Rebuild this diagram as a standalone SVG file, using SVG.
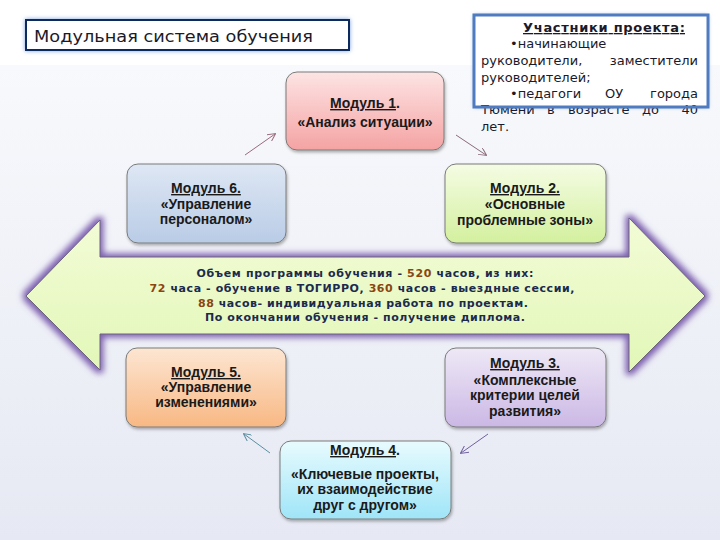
<svg xmlns="http://www.w3.org/2000/svg" width="720" height="540" viewBox="0 0 720 540">
<defs>
<linearGradient id="bg" x1="0" y1="0" x2="0" y2="1"><stop offset="0" stop-color="#f8f9fc"/><stop offset="1" stop-color="#e6e9f3"/></linearGradient>
<linearGradient id="gArrow" x1="0" y1="0" x2="0" y2="1"><stop offset="0" stop-color="#f3fcd6"/><stop offset="1" stop-color="#e2f7b8"/></linearGradient>
<linearGradient id="g1" x1="0" y1="0" x2="0" y2="1"><stop offset="0" stop-color="#fde4e4"/><stop offset="1" stop-color="#f5a3a3"/></linearGradient>
<linearGradient id="g2" x1="0" y1="0" x2="0" y2="1"><stop offset="0" stop-color="#f5fce4"/><stop offset="1" stop-color="#d3f09e"/></linearGradient>
<linearGradient id="g3" x1="0" y1="0" x2="0" y2="1"><stop offset="0" stop-color="#eee8f6"/><stop offset="1" stop-color="#cbb8e5"/></linearGradient>
<linearGradient id="g4" x1="0" y1="0" x2="0" y2="1"><stop offset="0" stop-color="#e8fbfe"/><stop offset="1" stop-color="#9fe5f8"/></linearGradient>
<linearGradient id="g5" x1="0" y1="0" x2="0" y2="1"><stop offset="0" stop-color="#fde6d2"/><stop offset="1" stop-color="#f8b883"/></linearGradient>
<linearGradient id="g6" x1="0" y1="0" x2="0" y2="1"><stop offset="0" stop-color="#dee7f4"/><stop offset="1" stop-color="#b9cce6"/></linearGradient>
<filter id="glow" x="-10%" y="-20%" width="120%" height="140%">
<feMorphology in="SourceAlpha" operator="dilate" radius="2.5" result="d"/>
<feGaussianBlur in="d" stdDeviation="3" result="b"/>
<feFlood flood-color="#7d5fb0" flood-opacity="1"/>
<feComposite in2="b" operator="in" result="g"/>
<feMerge><feMergeNode in="g"/><feMergeNode in="SourceGraphic"/></feMerge>
</filter>
<filter id="sh" x="-10%" y="-10%" width="120%" height="130%">
<feDropShadow dx="1" dy="2" stdDeviation="1.5" flood-color="#000" flood-opacity="0.3"/>
</filter>
<filter id="bglow" x="-10%" y="-30%" width="120%" height="160%">
<feDropShadow dx="0" dy="0" stdDeviation="2" flood-color="#5b8ad6" flood-opacity="0.8"/>
</filter>
<marker id="ah" viewBox="0 0 10 10" refX="9" refY="5" markerWidth="8" markerHeight="8" markerUnits="userSpaceOnUse" orient="auto">
<path d="M0,0 L10,5 L0,10" fill="none" stroke="context-stroke" stroke-width="1.2"/>
</marker>
</defs>
<style>
.mod{stroke:#7a7a7a;stroke-width:1;filter:url(#sh)}
.mt{font-family:"Liberation Sans",Arial,sans-serif;font-weight:bold;font-size:14px;fill:#1a1a1a;text-anchor:middle}
.u{text-decoration:underline}
.ct{font-family:"DejaVu Sans",Verdana,sans-serif;font-weight:bold;font-size:11px;fill:#1b2a4e;text-anchor:middle}
.num{fill:#8b4513}
.pt{font-family:"DejaVu Sans",Verdana,sans-serif;font-size:13px;fill:#1a1a2a}
.e{text-anchor:end}
.con{fill:none;stroke-width:1}
</style>
<rect x="0" y="0" width="720" height="540" fill="#ffffff"/>
<rect x="0" y="65" width="720" height="475" fill="url(#bg)"/>

<g id="title">
<rect x="26" y="20" width="323" height="30" fill="#ffffff" stroke="#0f2b5c" stroke-width="2" filter="url(#bglow)"/>
<text x="34" y="42" font-family="'DejaVu Sans',Verdana,sans-serif" font-size="16.5" fill="#1a1a2a" textLength="279" lengthAdjust="spacingAndGlyphs">Модульная система обучения</text>
</g>

<g id="big-arrow">
<path d="M26,296 L100,220 L100,257 L629,257 L629,218 L705,296 L629,372 L629,334 L100,334 L100,370 Z" fill="url(#gArrow)" stroke="#6d6578" stroke-width="1" filter="url(#glow)"/>
<text class="ct" y="277" x="365" textLength="337" lengthAdjust="spacing">Объем программы обучения  - <tspan class="num">520</tspan> часов, из них:</text>
<text class="ct" y="292" x="362" textLength="425" lengthAdjust="spacing"><tspan class="num">72</tspan> часа - обучение в ТОГИРРО, <tspan class="num">360</tspan> часов - выездные сессии,</text>
<text class="ct" y="307" x="363" textLength="330" lengthAdjust="spacing"><tspan class="num">88</tspan> часов- индивидуальная работа по проектам.</text>
<text class="ct" y="321" x="365" textLength="320" lengthAdjust="spacing">По окончании обучения - получение диплома.</text>
</g>

<g id="participants">
<rect x="474" y="15" width="234" height="92" fill="#ffffff" filter="url(#bglow)"/>
<text class="pt" x="604" y="32" font-weight="bold" text-decoration="underline" text-anchor="middle" textLength="162" lengthAdjust="spacing">Участники проекта:</text>
<text class="pt" x="510" y="48">•начинающие</text>
<text class="pt" x="481" y="65">руководители,<tspan class="e" x="698">заместители</tspan></text>
<text class="pt" x="481" y="82">руководителей;</text>
<text class="pt" x="510" y="98">•педагоги<tspan x="605">ОУ</tspan><tspan class="e" x="698">города</tspan></text>
<text class="pt" x="481" y="114">Тюмени<tspan x="547">в</tspan><tspan x="568">возрасте</tspan><tspan x="642">до</tspan><tspan class="e" x="698">40</tspan></text>
<text class="pt" x="481" y="131">лет.</text>
<rect x="474" y="15" width="234" height="92" fill="none" stroke="#4f7cc0" stroke-width="3"/>
</g>

<g id="module1">
<rect class="mod" x="286" y="72" width="158" height="78" rx="11" fill="url(#g1)"/>
<text class="mt" x="365" y="108"><tspan class="u">Модуль 1</tspan>.</text>
<text class="mt" x="365" y="127">«Анализ ситуации»</text>
</g>
<g id="module2">
<rect class="mod" x="445" y="164" width="161" height="79" rx="11" fill="url(#g2)"/>
<text class="mt" x="525" y="193"><tspan class="u">Модуль 2.</tspan></text>
<text class="mt" x="525" y="209">«Основные</text>
<text class="mt" x="525" y="225">проблемные зоны»</text>
</g>
<g id="module3">
<rect class="mod" x="445" y="348" width="161" height="79" rx="11" fill="url(#g3)"/>
<text class="mt" x="525" y="368"><tspan class="u">Модуль 3.</tspan></text>
<text class="mt" x="525" y="385">«Комплексные</text>
<text class="mt" x="525" y="400">критерии целей</text>
<text class="mt" x="525" y="416">развития»</text>
</g>
<g id="module4">
<rect class="mod" x="280" y="441" width="171" height="78" rx="11" fill="url(#g4)"/>
<text class="mt" x="365" y="455"><tspan class="u">Модуль 4</tspan>.</text>
<text class="mt" x="365" y="479">«Ключевые проекты,</text>
<text class="mt" x="365" y="494">их взаимодействие</text>
<text class="mt" x="365" y="510">друг с другом»</text>
</g>
<g id="module5">
<rect class="mod" x="126" y="348" width="160" height="79" rx="11" fill="url(#g5)"/>
<text class="mt" x="206" y="377"><tspan class="u">Модуль 5.</tspan></text>
<text class="mt" x="206" y="392">«Управление</text>
<text class="mt" x="206" y="407">изменениями»</text>
</g>
<g id="module6">
<rect class="mod" x="127" y="164" width="159" height="79" rx="11" fill="url(#g6)"/>
<text class="mt" x="206" y="193"><tspan class="u">Модуль 6.</tspan></text>
<text class="mt" x="206" y="209">«Управление</text>
<text class="mt" x="206" y="224">персоналом»</text>
</g>

<g id="connectors">
<line class="con" x1="245" y1="155" x2="275" y2="134" stroke="#9a6a7c" marker-end="url(#ah)"/>
<line class="con" x1="456" y1="135" x2="486" y2="155" stroke="#8a6a7a" marker-end="url(#ah)"/>
<line class="con" x1="488" y1="434" x2="461" y2="453" stroke="#7060a0" marker-end="url(#ah)"/>
<line class="con" x1="270" y1="453" x2="244" y2="434" stroke="#5a8ea0" marker-end="url(#ah)"/>
</g>
</svg>
